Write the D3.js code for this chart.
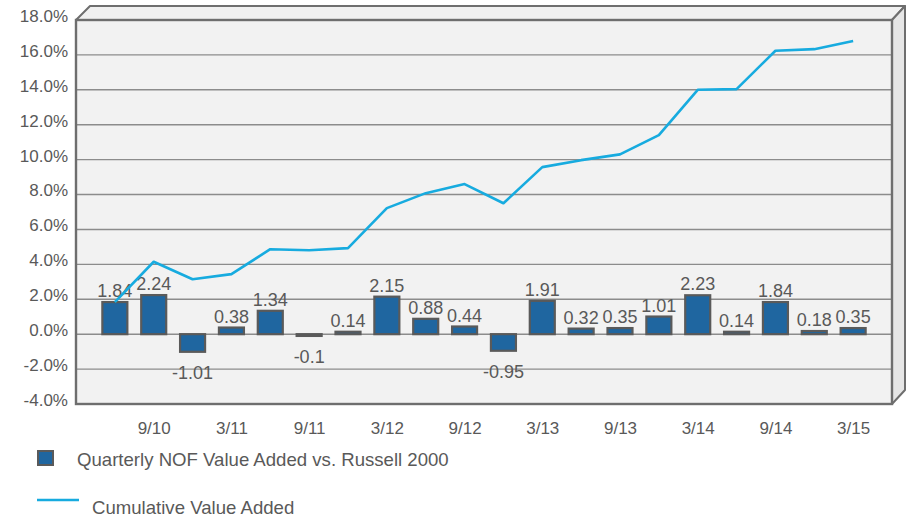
<!DOCTYPE html>
<html>
<head>
<meta charset="utf-8">
<script src="https://cdn.jsdelivr.net/npm/d3@7"></script>
<style>
  body { margin: 0; background: #ffffff; }
  svg { display: block; font-family: "Liberation Sans", Arial, sans-serif; }
</style>
</head>
<body>
<svg id="chart" width="907" height="518"></svg>
<script>
// quarter ends, one per bar
var quarters = ["6/10", "9/10", "12/10", "3/11", "6/11", "9/11", "12/11", "3/12", "6/12", "9/12",
                "12/12", "3/13", "6/13", "9/13", "12/13", "3/14", "6/14", "9/14", "12/14", "3/15"];

// only every second quarter gets a label on the axis
var tickLabels = ["9/10", "3/11", "9/11", "3/12", "9/12", "3/13", "9/13", "3/14", "9/14", "3/15"];

// quarterly NOF value added vs. Russell 2000 (%)
var quarterly = [1.84, 2.24, -1.01, 0.38, 1.34, -0.1, 0.14, 2.15, 0.88, 0.44,
                 -0.95, 1.91, 0.32, 0.35, 1.01, 2.23, 0.14, 1.84, 0.18, 0.35];

// cumulative value added (%)
var cumulative = [1.84, 4.15, 3.15, 3.44, 4.87, 4.81, 4.93, 7.22, 8.08, 8.60,
                  7.50, 9.57, 9.97, 10.30, 11.40, 14.00, 14.04, 16.24, 16.33, 16.80];

var yTicks = [-4, -2, 0, 2, 4, 6, 8, 10, 12, 14, 16, 18];

var textColor = "#595959",
    frameColor = "#6e6e6e",
    barColor = "#1f66a0",
    lineColor = "#17abdf";

var svg = d3.select("#chart");

//Plot box (front face) and 3D depth
var boxLeft = 76, boxRight = 892, boxTop = 20, boxBottom = 404, depth = 13;

var x = d3.scalePoint().domain(quarters).range([boxLeft, boxRight]).padding(1);
var y = d3.scaleLinear().domain([-4, 18]).range([boxBottom, boxTop]);

//Top and right faces of the box
svg.append("polygon")
    .attr("points", [[boxLeft, boxTop], [boxLeft + depth + 1, boxTop - depth - 1], [boxRight + depth, boxTop - depth - 1], [boxRight, boxTop]].join(" "))
    .attr("fill", "#f0f0f0")
    .attr("stroke", frameColor)
    .attr("stroke-width", 2)
    .attr("stroke-linejoin", "round");

svg.append("polygon")
    .attr("points", [[boxRight, boxTop], [boxRight + depth, boxTop - depth - 1], [boxRight + depth, boxBottom - depth - 1], [boxRight, boxBottom]].join(" "))
    .attr("fill", "#e6e6e6")
    .attr("stroke", frameColor)
    .attr("stroke-width", 2)
    .attr("stroke-linejoin", "round");

//Front face
svg.append("rect")
    .attr("x", boxLeft).attr("y", boxTop)
    .attr("width", boxRight - boxLeft).attr("height", boxBottom - boxTop)
    .attr("fill", "#f2f2f2");

//Gridlines
svg.append("g")
    .selectAll("line")
    .data(yTicks.filter(function(d) { return d > -4 && d < 18; }))
    .enter().append("line")
    .attr("x1", boxLeft).attr("x2", boxRight)
    .attr("y1", function(d) { return y(d); })
    .attr("y2", function(d) { return y(d); })
    .attr("stroke", "#8c8c8c")
    .attr("stroke-width", 1.4);

//Frame edges of the front face
svg.append("rect")
    .attr("x", boxLeft).attr("y", boxTop)
    .attr("width", boxRight - boxLeft).attr("height", boxBottom - boxTop)
    .attr("fill", "none")
    .attr("stroke", frameColor)
    .attr("stroke-width", 2.4);

//Y axis labels (sit a little above their gridline, as in the original)
var yAxis = svg.append("g")
    .attr("transform", "translate(" + (boxLeft - 8) + ",-4)")
    .call(d3.axisLeft(y).tickValues(yTicks).tickSize(0).tickPadding(0)
            .tickFormat(function(d) { return d.toFixed(1) + "%"; }));
yAxis.select(".domain").remove();
yAxis.selectAll("text")
    .attr("fill", textColor)
    .style("font-size", "17px")
    .style("font-family", "Liberation Sans, Arial, sans-serif");

//X axis labels
var xAxis = svg.append("g")
    .attr("transform", "translate(0," + (boxBottom + 18) + ")")
    .call(d3.axisBottom(x).tickValues(tickLabels).tickSize(0).tickPadding(0));
xAxis.select(".domain").remove();
xAxis.selectAll("text")
    .attr("fill", textColor)
    .style("font-size", "17px")
    .style("font-family", "Liberation Sans, Arial, sans-serif");

//Bars
var barWidth = 25;
var bars = quarters.map(function(q, i) { return {q: q, v: quarterly[i]}; });

svg.append("g")
    .selectAll("rect")
    .data(bars)
    .enter().append("rect")
    .attr("x", function(d) { return x(d.q) - barWidth / 2; })
    .attr("y", function(d) { return y(Math.max(0, d.v)); })
    .attr("width", barWidth)
    .attr("height", function(d) { return Math.abs(y(d.v) - y(0)); })
    .attr("fill", barColor)
    .attr("stroke", "#5a5a5a")
    .attr("stroke-width", 2.2);

//Bar value labels
svg.append("g")
    .selectAll("text")
    .data(bars)
    .enter().append("text")
    .attr("x", function(d) { return x(d.q); })
    .attr("y", function(d) { return d.v >= 0 ? y(d.v) - 5 : y(d.v) + 27; })
    .attr("text-anchor", "middle")
    .attr("fill", textColor)
    .style("font-size", "18px")
    .text(function(d) { return String(d.v); });

//Cumulative line
var line = d3.line()
    .x(function(d, i) { return x(quarters[i]); })
    .y(function(d) { return y(d); });

svg.append("path")
    .datum(cumulative)
    .attr("d", line)
    .attr("fill", "none")
    .attr("stroke", lineColor)
    .attr("stroke-width", 2.6)
    .attr("stroke-linejoin", "round");

//Legend
var legend = svg.append("g");

legend.append("rect")
    .attr("x", 38).attr("y", 451)
    .attr("width", 15).attr("height", 14)
    .attr("fill", barColor)
    .attr("stroke", "#5a5a5a")
    .attr("stroke-width", 2);

legend.append("text")
    .attr("x", 77).attr("y", 466)
    .attr("fill", textColor)
    .style("font-size", "18.6px")
    .text("Quarterly NOF Value Added vs. Russell 2000");

legend.append("line")
    .attr("x1", 37).attr("x2", 79)
    .attr("y1", 500).attr("y2", 500)
    .attr("stroke", lineColor)
    .attr("stroke-width", 2.6);

legend.append("text")
    .attr("x", 92).attr("y", 514)
    .attr("fill", textColor)
    .style("font-size", "18.6px")
    .text("Cumulative Value Added");
</script>
</body>
</html>
